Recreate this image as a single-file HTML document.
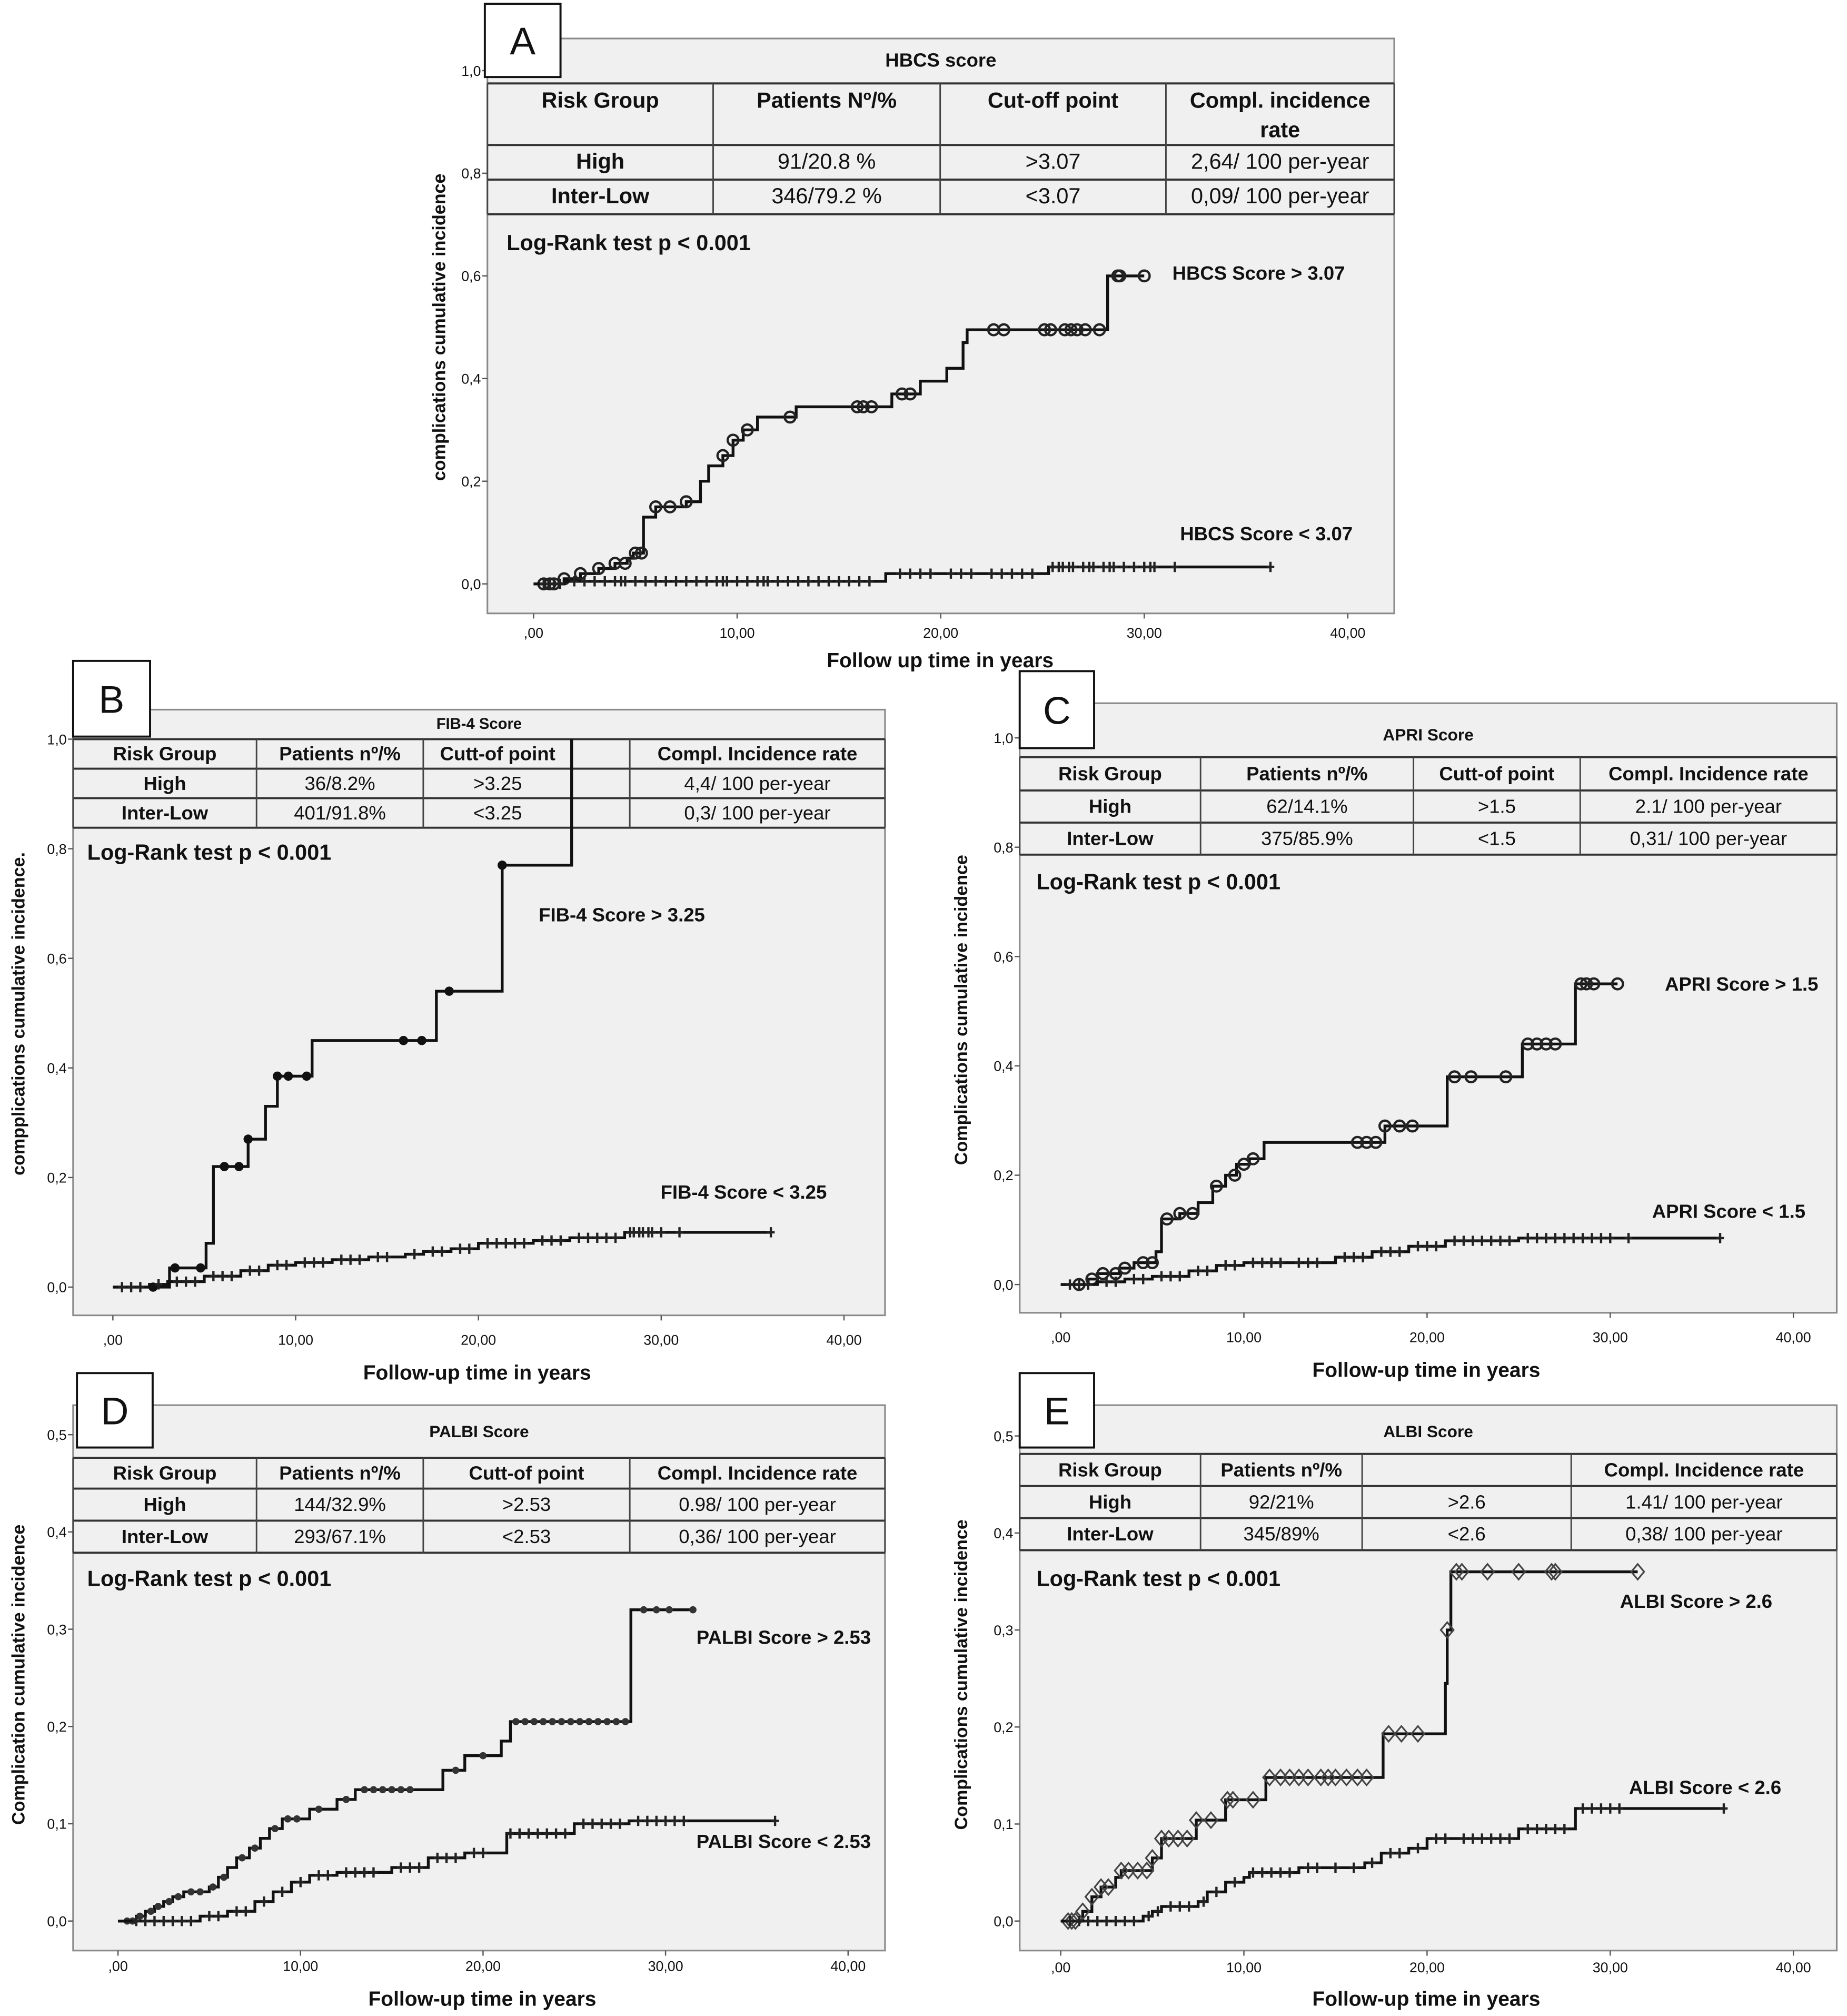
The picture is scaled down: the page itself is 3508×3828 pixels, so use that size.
<!DOCTYPE html>
<html><head><meta charset="utf-8"><style>
html,body{margin:0;padding:0;background:#fff}
svg{display:block}
text{font-family:"Liberation Sans Narrow","Liberation Sans",sans-serif}
</style></head><body>
<svg id="fig" xmlns="http://www.w3.org/2000/svg" width="3508" height="3828" viewBox="0 0 1440 1571" preserveAspectRatio="none"></svg>
<script>
// ---------- DATA ----------
const aHighTimes=[1.5,2.3,3.2,4,4.6,4.9,5.4,6,7.5,8.2,8.6,9.3,9.8,10.3,11.0,12.9,17.6,19,20.3,21.1,21.3,28.2];
const aHighVals=[0.01,0.02,0.03,0.04,0.05,0.06,0.13,0.15,0.16,0.2,0.23,0.25,0.28,0.30,0.325,0.345,0.37,0.395,0.42,0.47,0.495,0.60];
const aHighEnd=30.0;
const aHighCensor=[0.5,0.8,1,1.5,2.3,3.2,4,4.5,5,5.3,6,6.7,7.5,9.3,9.8,10.5,12.6,15.9,16.2,16.6,18.1,18.5,22.6,23.1,25.1,25.4,26.1,26.4,26.7,27.1,27.8,28.7,28.8,30];
const aLowTimes=[1.5,17.3,25.3];
const aLowVals=[0.005,0.02,0.033];
const aLowEnd=36.2;
const aLowCensor=[0.5,0.8,1,1.3,2,2.5,3,3.5,4,4.3,4.5,5,5.5,6,6.5,7,7.5,8,8.5,9,9.3,9.5,10,10.5,11,11.3,11.5,12,12.5,13,13.5,14,14.5,15,15.5,16,16.5,18,18.5,19,19.5,20.5,21,21.5,22.5,23,23.5,24,24.5,25.5,25.8,26,26.3,26.5,27,27.3,27.5,28,28.3,28.5,29,29.5,30,30.3,30.5,31.5,36.2];

const bHighTimes=[3.1,5.1,5.5,7.4,8.35,9.0,10.9,17.7,21.3,25.1];
const bHighVals=[0.035,0.08,0.22,0.27,0.33,0.385,0.45,0.54,0.77,1.0];
const bHighEnd=25.1;
const bHighCensor=[2.2,3.4,4.8,6.1,6.9,7.4,9.0,9.6,10.6,15.9,16.9,18.4,21.3];
const bLowTimes=[2,3,5,7,8.5,10,12,14,16,17,18.5,20,23,25,28];
const bLowVals=[0.005,0.01,0.02,0.03,0.04,0.045,0.05,0.055,0.06,0.065,0.07,0.08,0.085,0.09,0.1];
const bLowEnd=36;
const bLowCensor=[0.5,1,1.5,2.5,3.5,4,4.5,5.5,6,6.5,7.5,8,9,9.5,10.5,11,11.5,12.5,13,13.5,14.5,15,16.5,17.5,18,19,19.5,20.5,21,21.5,22,22.5,23.5,24,24.5,25.5,26,26.5,27,27.5,28.3,28.5,28.8,29,29.3,29.5,30,31,36];

const cHighTimes=[1.5,2,3.2,4,5.2,5.5,6.5,7.5,8.3,9,9.6,10.3,11.1,17.7,21.1,25.2,28.1];
const cHighVals=[0.01,0.02,0.03,0.04,0.06,0.12,0.13,0.15,0.18,0.2,0.22,0.23,0.26,0.29,0.38,0.44,0.55];
const cHighEnd=30.4;
const cHighCensor=[1,1.7,2.3,3,3.5,4.5,5,5.8,6.5,7.2,8.5,9.5,10,10.5,16.2,16.7,17.2,17.7,18.5,19.2,21.5,22.4,24.3,25.5,26,26.5,27,28.4,28.7,29.1,30.4];
const cLowTimes=[2,3.5,5,7,8.5,10,15,17,19,21,25];
const cLowVals=[0.005,0.01,0.015,0.025,0.035,0.04,0.05,0.06,0.07,0.08,0.085];
const cLowEnd=36;
const cLowCensor=[0.5,1,1.5,2.5,3,4,4.5,5.5,6,6.5,7.5,8,9,9.5,10.5,11,11.5,12,13,13.5,14,15.5,16,16.5,17.5,18,18.5,19.5,20,20.5,21.5,22,22.5,23,23.5,24,24.5,25.5,26,26.5,27,27.5,28,28.5,29,29.5,30,31,36];

const dHighTimes=[1,1.5,2,2.5,3,3.6,5,5.5,6,6.5,7.2,7.8,8.3,9,10.5,12,13,17.8,19,21,21.5,28.1];
const dHighVals=[0.005,0.01,0.015,0.02,0.025,0.03,0.035,0.045,0.055,0.065,0.075,0.085,0.095,0.105,0.115,0.125,0.135,0.155,0.17,0.185,0.205,0.32];
const dHighEnd=31.5;
const dHighCensor=[0.5,0.8,1.2,1.8,2.2,2.8,3.3,4,4.5,5.2,5.8,6.8,7.5,8.6,9.3,9.8,11,12.5,13.5,14,14.5,15,15.5,16,18.5,20,21.8,22.3,22.8,23.3,23.8,24.3,24.8,25.3,25.8,26.3,26.8,27.3,27.8,28.8,29.5,30.2,31.5];
const dLowTimes=[4.5,6,7.5,8.5,9.5,10.5,12,15,17,19,21.3,25,28];
const dLowVals=[0.005,0.01,0.02,0.03,0.04,0.047,0.05,0.055,0.065,0.07,0.09,0.1,0.103];
const dLowEnd=36;
const dLowCensor=[1,1.5,2,2.5,3,3.5,4,5,5.5,6.5,7,8,9,10,11,11.5,12.5,13,13.5,14,15.5,16,16.5,17.5,18,18.5,19.5,20,21.5,22,22.5,23,23.5,24,24.5,25.5,26,26.5,27,27.5,28.5,29,29.5,30,30.5,31,36];

const eHighTimes=[1.2,1.7,2.2,3,3.3,5,5.5,7.4,9,11.2,17.6,21,21.1,21.3];
const eHighVals=[0.01,0.025,0.035,0.045,0.052,0.065,0.085,0.104,0.125,0.148,0.193,0.245,0.3,0.36];
const eHighEnd=31.5;
const eHighCensor=[0.4,0.6,0.8,1.2,1.7,2.2,2.6,3.3,3.7,4.2,4.7,5.0,5.5,5.9,6.4,6.9,7.4,8.2,9.1,9.4,10.5,11.4,12,12.5,13,13.5,14.2,14.6,15,15.6,16.2,16.7,17.9,18.6,19.5,21.1,21.6,21.9,23.3,25,26.8,27,31.5];
const eLowTimes=[4.5,5,5.5,7.5,8,9,10,10.3,13,16.6,17.5,19,20,25,28.1];
const eLowVals=[0.005,0.01,0.015,0.02,0.03,0.04,0.045,0.05,0.055,0.06,0.07,0.075,0.085,0.095,0.116];
const eLowEnd=36.2;
const eLowCensor=[0.5,1,1.5,2,2.5,3,3.5,4,4.8,5.3,6,6.5,7,7.8,8.5,9.5,10.5,11,11.5,12,12.5,13.5,14,15,16,17,18,18.5,19.5,20.5,21,22,22.5,23,23.5,24,24.5,25.5,26,26.5,27,27.5,28.5,29,29.5,30,30.5,36.2];

// ---------- LAYOUT ----------
const NS="http://www.w3.org/2000/svg";
const svg=document.getElementById('fig');
function el(tag,attrs,parent){const e=document.createElementNS(NS,tag);for(const k in attrs)e.setAttribute(k,attrs[k]);(parent||svg).appendChild(e);return e;}
function txt(s,x,y,size,anchor,weight,parent,rot){const t=el('text',{x:x,y:y,'font-size':size,'text-anchor':anchor||'middle','font-weight':weight||'bold',fill:'#111'},parent);if(rot)t.setAttribute('transform','rotate(-90 '+x+' '+y+')');t.textContent=s;return t;}
function valueAt(times,vals,t){let v=0;for(let i=0;i<times.length;i++){if(times[i]<=t+1e-9)v=vals[i];}return v;}

const panels=[
 {id:'a',letter:'A',box:[380,30,1087,478],x0:416,px:15.87,y0:455,py:400,ymax:1.0,ystep:0.2,lbl:[378,3,437,60],
  title:'HBCS score',titleY:52,titleSize:15,rows:[30,65,113,140,167],cols:[380,556,733,909,1087],
  header:['Risk Group','Patients Nº/%','Cut-off point','Compl. incidence|rate'],
  high:['High','91/20.8 %','>3.07','2,64/ 100 per-year'],low:['Inter-Low','346/79.2 %','<3.07','0,09/ 100 per-year'],
  rank:[395,195],hl:['HBCS Score > 3.07',914,218],ll:['HBCS Score < 3.07',920,421],
  ytitle:['complications cumulative incidence',347,255],xtitle:['Follow up time in years',733,520],xtickY:497,hm:'circle',
  H:[aHighTimes,aHighVals,aHighEnd,aHighCensor],L:[aLowTimes,aLowVals,aLowEnd,aLowCensor]},
 {id:'b',letter:'B',box:[57,553,690,1025],x0:88,px:14.25,y0:1003,py:427,ymax:1.0,ystep:0.2,lbl:[57,515,117,574],
  title:'FIB-4 Score',titleY:568,titleSize:12,rows:[553,576,599,622,645],cols:[57,200,330,446,491,690],
  header:['Risk Group','Patients nº/%','Cutt-of point','','Compl. Incidence rate'],
  high:['High','36/8.2%','>3.25','','4,4/ 100 per-year'],low:['Inter-Low','401/91.8%','<3.25','','0,3/ 100 per-year'],
  rank:[68,670],hl:['FIB-4 Score > 3.25',420,718],ll:['FIB-4 Score < 3.25',515,934],
  ytitle:['compplications cumulative incidence.',19,790],xtitle:['Follow-up time in years',372,1075],xtickY:1048,hm:'dot',
  H:[bHighTimes,bHighVals,bHighEnd,bHighCensor],L:[bLowTimes,bLowVals,bLowEnd,bLowCensor]},
 {id:'c',letter:'C',box:[795,548,1432,1023],x0:827,px:14.28,y0:1001,py:426,ymax:1.0,ystep:0.2,lbl:[795,523,853,583],
  title:'APRI Score',titleY:577,titleSize:13,rows:[548,590,616,641,666],cols:[795,936,1102,1232,1432],
  header:['Risk Group','Patients nº/%','Cutt-of point','Compl. Incidence rate'],
  high:['High','62/14.1%','>1.5','2.1/ 100 per-year'],low:['Inter-Low','375/85.9%','<1.5','0,31/ 100 per-year'],
  rank:[808,693],hl:['APRI Score > 1.5',1298,772],ll:['APRI Score < 1.5',1288,949],
  ytitle:['Complications cumulative incidence',754,787],xtitle:['Follow-up time in years',1112,1073],xtickY:1046,hm:'circle',
  H:[cHighTimes,cHighVals,cHighEnd,cHighCensor],L:[cLowTimes,cLowVals,cLowEnd,cLowCensor]},
 {id:'d',letter:'D',box:[57,1095,690,1520],x0:92,px:14.23,y0:1497,py:758,ymax:0.5,ystep:0.1,lbl:[60,1070,119,1128],
  title:'PALBI Score',titleY:1120,titleSize:13,rows:[1095,1136,1160,1185,1210],cols:[57,200,330,491,690],
  header:['Risk Group','Patients nº/%','Cutt-of point','Compl. Incidence rate'],
  high:['High','144/32.9%','>2.53','0.98/ 100 per-year'],low:['Inter-Low','293/67.1%','<2.53','0,36/ 100 per-year'],
  rank:[68,1236],hl:['PALBI Score > 2.53',543,1281],ll:['PALBI Score < 2.53',543,1440],
  ytitle:['Complication cumulative incidence',19,1305],xtitle:['Follow-up time in years',376,1563],xtickY:1536,hm:'sdot',
  H:[dHighTimes,dHighVals,dHighEnd,dHighCensor],L:[dLowTimes,dLowVals,dLowEnd,dLowCensor]},
 {id:'e',letter:'E',box:[795,1095,1432,1520],x0:827,px:14.28,y0:1497,py:756,ymax:0.5,ystep:0.1,lbl:[795,1070,853,1128],
  title:'ALBI Score',titleY:1120,titleSize:13,rows:[1095,1133,1158,1183,1208],cols:[795,936,1062,1225,1432],
  header:['Risk Group','Patients nº/%','','Compl. Incidence rate'],
  high:['High','92/21%','>2.6','1.41/ 100 per-year'],low:['Inter-Low','345/89%','<2.6','0,38/ 100 per-year'],
  rank:[808,1236],hl:['ALBI Score > 2.6',1263,1253],ll:['ALBI Score < 2.6',1270,1398],
  ytitle:['Complications cumulative incidence',754,1305],xtitle:['Follow-up time in years',1112,1563],xtickY:1537,hm:'diamond',
  H:[eHighTimes,eHighVals,eHighEnd,eHighCensor],L:[eLowTimes,eLowVals,eLowEnd,eLowCensor]}
];

const xTicks=[0,10,20,30,40];
const xTickLabels=[',00','10,00','20,00','30,00','40,00'];

panels.forEach(p=>{
  const g=el('g',{});
  
  
  const X=t=>p.x0+t*p.px, Y=v=>p.y0-v*p.py;
  const [bx1,by1,bx2,by2]=p.box;
  const bg=el('rect',{x:bx1,y:by1,width:bx2-bx1,height:by2-by1,fill:'#f0f0f0',stroke:'#8a8a8a','stroke-width':1.3},g);
  
  
  const n=Math.round(p.ymax/p.ystep);
  for(let i=0;i<=n;i++){const v=i*p.ystep,y=Y(v);
    el('line',{x1:bx1-4,y1:y,x2:bx1,y2:y,stroke:'#555','stroke-width':1},g);
    const t=txt(v.toFixed(1).replace('.',','),bx1-5,y+4,11,'end','normal',g);
    
    }
  xTicks.forEach((v,i)=>{const x=X(v);
    el('line',{x1:x,y1:by2,x2:x,y2:by2+4,stroke:'#555','stroke-width':1},g);
    const t=txt(xTickLabels[i],x,p.xtickY,11,'middle','normal',g);
    
    });
  const tg=el('g',{},g);
  
  
  const r=p.rows, c=p.cols, rr=r.length===5?r.slice(1):r;
  const top=rr[0], bot=rr[rr.length-1];
  rr.forEach(y=>el('line',{x1:c[0],y1:y,x2:c[c.length-1],y2:y,stroke:'#333','stroke-width':1.6},tg));
  c.forEach(x=>el('line',{x1:x,y1:top,x2:x,y2:bot,stroke:'#444','stroke-width':1.2},tg));
  const tt=txt(p.title,(c[0]+c[c.length-1])/2,p.titleY,p.titleSize,'middle','bold',tg);
  
  
  const rowsTxt=[p.header,p.high,p.low];
  rowsTxt.forEach((row,ri)=>{
    const ya=rr[ri],yb=rr[ri+1];
    row.forEach((s,ci)=>{
      if(!s)return;
      const cx=(c[ci]+c[ci+1])/2, fs=p.id==='a'?17:15;
      if(s.indexOf('|')>=0){const parts=s.split('|');
        txt(parts[0],cx,ya+19,fs,'middle',ri===0?'bold':'normal',tg);
        txt(parts[1],cx,ya+42,fs,'middle',ri===0?'bold':'normal',tg);}
      else{const yy=(ri===0&&p.id==='a')?ya+19:(ya+yb)/2+5;
        txt(s,cx,yy,fs,'middle',(ri===0||ci===0)?'bold':'normal',tg);}
    });
  });
  const rk=txt('Log-Rank test p < 0.001',p.rank[0],p.rank[1],17,'start','bold',g);
  
  
  function curve(D,kind){
    const [times,vals,end,cens]=D;
    let d='M'+X(0)+','+Y(0);
    times.forEach((t,i)=>{d+=' H'+X(t)+' V'+Y(vals[i]);});
    d+=' H'+X(end);
    const path=el('path',{d:d,fill:'none',stroke:'#111','stroke-width':2.2},g);
    
    
    cens.forEach(t=>{
      const x=X(t),y=Y(valueAt(times,vals,t));let m;
      const mk=kind==='low'?'plus':p.hm;
      if(mk==='circle')m=el('circle',{cx:x,cy:y,r:4.2,fill:'none',stroke:'#222','stroke-width':1.8},g);
      else if(mk==='dot')m=el('circle',{cx:x,cy:y,r:3.6,fill:'#111'},g);
      else if(mk==='sdot')m=el('circle',{cx:x,cy:y,r:2.8,fill:'#333'},g);
      else if(mk==='diamond')m=el('path',{d:`M${x},${y-6}L${x+5},${y}L${x},${y+6}L${x-5},${y}Z`,fill:'none',stroke:'#444','stroke-width':1.3},g);
      else m=el('path',{d:`M${x-3},${y}H${x+3}M${x},${y-4}V${y+4}`,stroke:'#222','stroke-width':1.8},g);
      
      
    });
  }
  curve(p.H,'high');curve(p.L,'low');
  const h=txt(p.hl[0],p.hl[1],p.hl[2],15,'start','bold',g);
  
  
  const l=txt(p.ll[0],p.ll[1],p.ll[2],15,'start','bold',g);
  
  
  const yt=txt(p.ytitle[0],p.ytitle[1],p.ytitle[2],14,'middle','bold',g,true);
  
  
  const xt=txt(p.xtitle[0],p.xtitle[1],p.xtitle[2],16,'middle','bold',g);
  
  
  const [lx1,ly1,lx2,ly2]=p.lbl;
  const lb=el('rect',{x:lx1,y:ly1,width:lx2-lx1,height:ly2-ly1,fill:'#fff',stroke:'#111','stroke-width':1.6},g);
  
  
  const lt=txt(p.letter,(lx1+lx2)/2,(ly1+ly2)/2+11,30,'middle','normal',g);
  
  
});
</script>
</body></html>
